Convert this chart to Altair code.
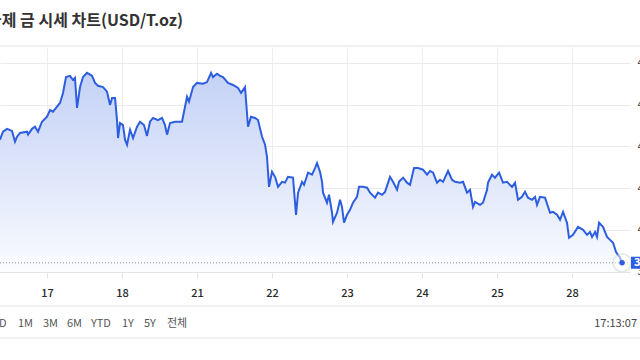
import json
import altair as alt
import pandas as pd

FONT = "Noto Sans CJK KR"

TITLE = "국제 금 시세 차트(USD/T.oz)"
DAY_LABELS = ["17", "18", "21", "22", "23", "24", "25", "28"]
DAY_POS = [0, 1, 2, 3, 4, 5, 6, 7]
PRICE_TICKS = [3900, 4000, 4100, 4200, 4300, 4400]
RANGE_BUTTONS = ["1D", "1M", "3M", "6M", "YTD", "1Y", "5Y", "전체"]
TIME_STAMP = "17:13:07"

# day position (0 = "17" gridline) and price in USD/T.oz
T = [-0.627, -0.587, -0.533, -0.467, -0.427, -0.400, -0.360, -0.267, -0.253, -0.200, -0.160, -0.120, -0.067,
     0.000, 0.040, 0.080, 0.133, 0.173, 0.213, 0.253, 0.307, 0.347, 0.373, 0.400,
     0.440, 0.480, 0.533, 0.600, 0.640, 0.680, 0.747, 0.800, 0.840, 0.867, 0.907,
     0.933, 0.947, 0.973, 1.013, 1.040, 1.067, 1.107, 1.147, 1.200, 1.240, 1.293, 1.333,
     1.373, 1.413, 1.480, 1.533, 1.573, 1.600, 1.640, 1.707, 1.800, 1.813,
     1.867, 1.893, 1.947, 2.000, 2.080, 2.133, 2.187, 2.213, 2.267, 2.307, 2.347, 2.413, 2.480, 2.547, 2.587, 2.640,
     2.680, 2.720, 2.773, 2.813, 2.867, 2.907, 2.933, 2.960, 3.000, 3.040, 3.080, 3.133, 3.173, 3.213, 3.280,
     3.320, 3.347, 3.400, 3.427, 3.480, 3.533, 3.573, 3.600, 3.640,
     3.667, 3.680, 3.733, 3.760, 3.800, 3.813, 3.867, 3.907, 3.933, 3.960, 4.000, 4.040, 4.080,
     4.133, 4.160, 4.213, 4.267, 4.307, 4.373, 4.413, 4.467, 4.507, 4.573, 4.613, 4.667, 4.693, 4.747, 4.800, 4.840,
     4.893, 4.947, 5.013, 5.067, 5.107, 5.147, 5.200, 5.240, 5.280, 5.347, 5.400, 5.440, 5.507, 5.547, 5.600, 5.640,
     5.680, 5.707, 5.773, 5.813,
     5.867, 5.880, 5.933, 5.973, 6.027, 6.080, 6.133, 6.200, 6.240, 6.280, 6.333, 6.373, 6.413, 6.467, 6.507, 6.533,
     6.573, 6.640,
     6.707, 6.747, 6.800, 6.840, 6.880, 6.933, 6.960, 7.013, 7.080, 7.147, 7.200, 7.240, 7.267, 7.307, 7.333, 7.360,
     7.413, 7.467, 7.507, 7.547, 7.587, 7.640, 7.667]

PRICE = [4216, 4235, 4242, 4237, 4211, 4223, 4232, 4235, 4228, 4242, 4247, 4235, 4259,
         4271, 4287, 4283, 4295, 4304, 4328, 4366, 4369, 4359, 4364, 4292,
         4342, 4366, 4376, 4369, 4352, 4345, 4342, 4331, 4299, 4316, 4316,
         4263, 4220, 4256, 4251, 4216, 4204, 4240, 4220, 4247, 4259, 4251, 4225,
         4259, 4268, 4263, 4268, 4251, 4228, 4256, 4259, 4259, 4271,
         4319, 4307, 4342, 4352, 4350, 4354, 4376, 4366, 4374, 4369, 4366, 4352, 4347, 4340, 4328, 4342,
         4247, 4271, 4268, 4263, 4223, 4204, 4175, 4103, 4139, 4127, 4103, 4115, 4113, 4127, 4125,
         4036, 4089, 4115, 4108, 4137, 4132, 4148, 4160, 4139,
         4115, 4089, 4065, 4084, 4041, 4019, 4041, 4072, 4055, 4017, 4036, 4048, 4065,
         4079, 4103, 4103, 4101, 4089, 4077, 4089, 4084, 4091, 4127, 4115, 4096, 4115, 4125, 4113, 4108,
         4148, 4148, 4144, 4132, 4141, 4137, 4113, 4120, 4115, 4141, 4120, 4115, 4113, 4115, 4089, 4096,
         4055, 4067, 4060, 4065,
         4096, 4113, 4132, 4125, 4137, 4113, 4115, 4103, 4113, 4072, 4079, 4091, 4077, 4072, 4079, 4060,
         4079, 4077,
         4041, 4043, 4036, 4024, 4043, 4017, 3981, 3988, 4007, 4000, 3988, 3995, 3983, 3995, 3983, 4017,
         4007, 3983, 3976, 3969, 3947, 3933, 3921]

X_DOMAIN = [-0.627, 7.773]
Y_DOMAIN = [3899, 4438]

df = pd.DataFrame({"t": T, "p": PRICE})
cur = pd.DataFrame({"t": [T[-1]], "p": [PRICE[-1]]})

W, H = 630, 225
LINE_BLUE = "#2d5ee0"

xs = alt.Scale(domain=X_DOMAIN, nice=False, zero=False)
ys = alt.Scale(domain=Y_DOMAIN, nice=False, zero=False)

x_axis = alt.Axis(
    values=DAY_POS,
    labelExpr=json.dumps(DAY_LABELS) + "[datum.value]",
    grid=True, gridColor="#eeeeee", gridWidth=1,
    domainColor="#e4e4e4", tickColor="#e4e4e4", tickSize=6,
    labelPadding=9, labelFontSize=11, labelColor="#2a2a2a", labelFont=FONT,
    labelFontWeight=500,
    labelAngle=0, title=None, labelFlush=False, labelOverlap=False,
)
y_axis = alt.Axis(
    orient="right", values=PRICE_TICKS, format=",.2f",
    grid=True, gridColor="#eaeaea", gridWidth=1,
    domain=False, ticks=False, labelPadding=7,
    labelFontSize=11, labelColor="#333333", labelFont=FONT, title=None,
    labelFlush=False, labelOverlap=False,
)

X = alt.X("t:Q", scale=xs, axis=x_axis)
Y = alt.Y("p:Q", scale=ys, axis=y_axis)

area = alt.Chart(df).mark_area(
    color=alt.Gradient(
        gradient="linear",
        stops=[
            alt.GradientStop(color="#c4d2f6", offset=0),
            alt.GradientStop(color="#e6ecfb", offset=0.65),
            alt.GradientStop(color="#fbfcff", offset=1),
        ],
        x1=1, x2=1, y1=0, y2=1,
    )
).encode(x=X, y=Y, y2=alt.datum(Y_DOMAIN[0]))

line = alt.Chart(df).mark_line(color=LINE_BLUE, strokeWidth=2).encode(x=X, y=Y)

cur_rule = alt.Chart(cur).mark_rule(color="#8a8a8a", strokeDash=[1, 2], strokeWidth=1).encode(
    y=Y, x=alt.value(0), x2=alt.value(W),
)

ring = alt.Chart(cur).mark_circle(
    size=320, color="white", opacity=0.5, stroke="#c9d3cb", strokeWidth=1.5, strokeOpacity=1
).encode(x=X, y=Y)

dot = alt.Chart(cur).mark_circle(size=30, color=LINE_BLUE, opacity=1).encode(x=X, y=Y)

box = alt.Chart(cur).mark_rect(color="#2b5ee8", yOffset=-6, y2Offset=6).encode(
    y=Y, y2=alt.Y2("p:Q"),
    x=alt.value(W + 1), x2=alt.value(W + 60),
)
box_text = alt.Chart(cur).mark_text(
    color="white", align="left", baseline="middle", fontSize=11, font=FONT, fontWeight="bold"
).encode(y=Y, x=alt.value(W + 4), text=alt.Text("p:Q", format=",.2f"))

title = alt.Chart(pd.DataFrame({"s": [TITLE]})).mark_text(
    align="left", baseline="middle", fontSize=16, fontWeight="bold", font=FONT, color="#333333"
).encode(x=alt.value(-13), y=alt.value(-26), text="s:N")


def hrule(ypix):
    return alt.Chart(pd.DataFrame({"k": [0]})).mark_rule(color="#e4e4e4", strokeWidth=1).encode(
        x=alt.value(0), x2=alt.value(640), y=alt.value(ypix)
    )


sep_top = hrule(-1)
sep_mid = hrule(259)
sep_bot = hrule(291)

BUTTON_X = [-7, 18, 43, 67, 91, 122, 144, 167]
buttons = []
for lab, bx in zip(RANGE_BUTTONS, BUTTON_X):
    buttons.append(
        alt.Chart(pd.DataFrame({"s": [lab]})).mark_text(
            align="left", baseline="middle", fontSize=11, font=FONT, color="#555555"
        ).encode(x=alt.value(bx), y=alt.value(277), text="s:N")
    )

stamp = alt.Chart(pd.DataFrame({"s": [TIME_STAMP]})).mark_text(
    align="right", baseline="middle", fontSize=11, font=FONT, color="#444444"
).encode(x=alt.value(637), y=alt.value(277), text="s:N")

chart = alt.layer(
    area, line, cur_rule, ring, dot, box, box_text, title, sep_top, sep_mid, sep_bot, *buttons, stamp
).properties(
    width=W, height=H,
    autosize=alt.AutoSizeParams(type="none"),
    padding={"left": 0, "top": 47, "right": 10, "bottom": 82},
    background="white",
).configure_view(stroke=None)

chart.save("out.html", embed_options={"renderer": "svg", "actions": False})
